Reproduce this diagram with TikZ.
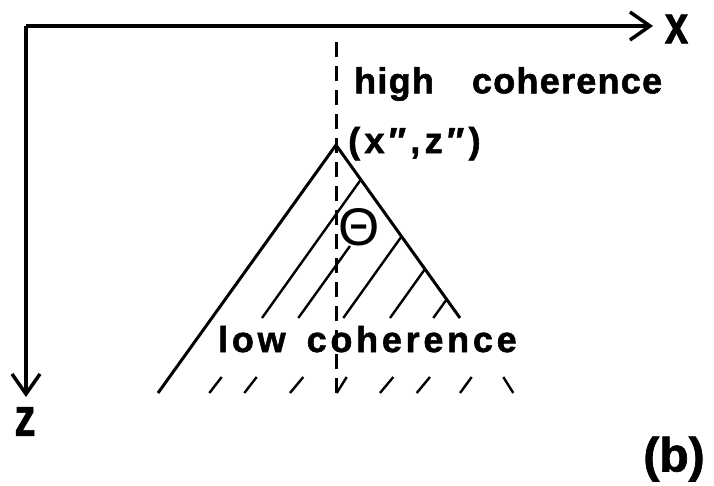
\documentclass[tikz,border=0pt]{standalone}
\usepackage{fontspec}
\usetikzlibrary{arrows.meta}
\newfontfamily\labfont{Liberation Sans Bold}[FakeBold=1.5]
\newfontfamily\axfont{Liberation Sans Bold}[FakeStretch=0.78,FakeBold=1]
\newfontfamily\thfont{Liberation Sans}
\begin{document}
\begin{tikzpicture}[x=1pt,y=-1pt,
  axis/.style={line width=3.5pt,-{Straight Barb[length=20pt,width=28pt]}},
  edgeline/.style={line width=3pt},
  hatch/.style={line width=2.4pt},
  dashline/.style={line width=3pt,dash pattern=on 15pt off 9pt},
  lab/.style={inner sep=0pt,anchor=base west,font=\labfont\fontsize{36}{40}\selectfont},
  axlab/.style={inner sep=0pt,anchor=center,font=\axfont\fontsize{54}{56}\selectfont},
]
\path[use as bounding box] (0,0) rectangle (714,485);
% axes
\coordinate (O) at (26,26);
\coordinate (X) at (653,26);
\coordinate (Z) at (26,397);
\draw[axis] (O) -- (X);
\draw[axis] (O) -- (Z);
\node[axlab] (xl) at (676.5,29) {x};
\node[axlab] (zl) at (25,421.5) {z};
% dashed vertical
\coordinate (D1) at (336,42);
\coordinate (D2) at (336,393);
\draw[dashline] (D1) -- (D2);
% triangle
\coordinate (A) at (336,145);
\coordinate (L) at (158,393);
\coordinate (R) at (460,318);
\draw[edgeline] (L) -- (A) -- (R);
% hatching inside
\coordinate (h1a) at (360.4,180.2); \coordinate (h1b) at (262,318);
\coordinate (h2a) at (350,246);    \coordinate (h2b) at (298.3,318);
\coordinate (h3a) at (401.3,236.8); \coordinate (h3b) at (343.3,318);
\coordinate (h4a) at (424.8,269.3); \coordinate (h4b) at (390,318);
\coordinate (h5a) at (446.6,299.5); \coordinate (h5b) at (433.3,318);
\foreach \i in {1,...,5} \draw[hatch] (h\i a) -- (h\i b);
% short marks below
\foreach \xa/\xb in {221.7/209.3,256.7/244.3,303.3/290,346.7/336.7,393.3/380,430/416.7,471.7/460,503.3/513.3}
  \draw[hatch] (\xa,377) -- (\xb,393);
% labels
\node[lab] (hi) at (354,93.3) {\addfontfeature{LetterSpace=3.5}high\hspace{38pt}coherence};
\node[lab] (lo) at (218,352) {\addfontfeature{LetterSpace=10.4}low\hspace{21pt}coherence};
\node[lab] (pt) at (348,153) {\addfontfeature{LetterSpace=12}(x″,z″)};
\node[inner sep=0pt,font=\thfont\fontsize{53}{55}\selectfont] (th) at (359,227) {Θ};
\node[inner sep=0pt,anchor=center,font=\labfont\fontsize{48}{52}\selectfont] (b) at (674,459) {(b)};
\end{tikzpicture}
\end{document}
